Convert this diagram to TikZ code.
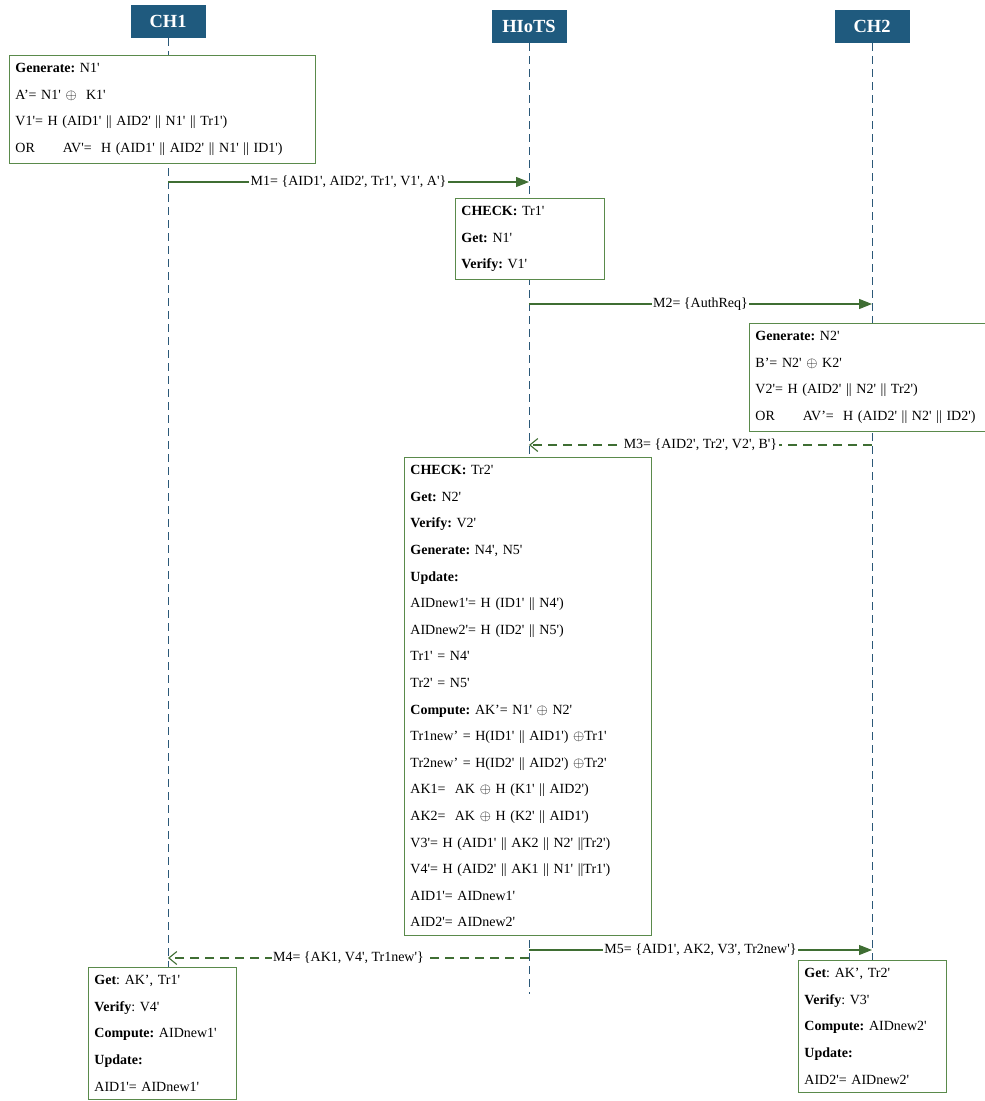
\documentclass[tikz,border=0pt]{standalone}
\usepackage{fontspec}
\setmainfont{Liberation Serif}[Ligatures=TeXOff]
\usetikzlibrary{arrows.meta}
\definecolor{headblue}{HTML}{1F5A7E}
\definecolor{lifeblue}{HTML}{2B5878}
\definecolor{boxgreen}{HTML}{5A8A4B}
\definecolor{msggreen}{HTML}{3F6E33}
\newcommand{\txtfont}{\frenchspacing\fontsize{14}{26.6}\selectfont}
\begin{document}
\begin{tikzpicture}[x=1pt,y=-1pt,
        head/.style={fill=headblue, text=white, font=\fontsize{18.5}{20}\selectfont\bfseries, minimum width=75pt, minimum height=33pt, inner sep=0pt},
        life/.style={draw=lifeblue, line width=1pt, dash pattern=on 8pt off 5pt},
        box/.style={draw=boxgreen, line width=0.9pt, fill=white, align=left, anchor=north west, inner xsep=6pt, inner ysep=8pt, font=\txtfont},
        msg/.style={draw=msggreen, line width=1.1pt, -{Triangle[length=13pt,width=10pt]}},
        reply/.style={draw=msggreen, line width=1.1pt, dash pattern=on 9pt off 6pt, -{Straight Barb[length=8pt,width=13pt]}},
        lbl/.style={fill=white, inner sep=1.5pt, font=\txtfont}]
            \useasboundingbox (0,0) rectangle (985,1101);
            \node[head] (ch1) at (168,21.5) {CH1};
            \node[head] (hiots) at (529,26.5) {HIoTS};
            \node[head] (ch2) at (872,26.5) {CH2};
            \coordinate (ch1end) at (168,967);
            \coordinate (hiotsend) at (529,994);
            \coordinate (ch2end) at (872,960);
            \draw[life] (ch1) -- (ch1end);
            \draw[life] (hiots) -- (hiotsend);
            \draw[life] (ch2) -- (ch2end);
            \node[box, text width=294pt] (gen1) at (9,55) {\textbf{Generate:} N1'\\
                A’= N1' $\oplus$\ \ K1'\\
                V1'= H (AID1' || AID2' || N1' || Tr1')\\
                OR\hspace{2em}AV'=\ \ H (AID1' || AID2' || N1' || ID1')};
            \node[box, text width=137pt] (chk1) at (455,198) {\textbf{CHECK:} Tr1'\\
                \textbf{Get:} N1'\\
                \textbf{Verify:} V1'};
            \node[box, text width=233pt] (gen2) at (749,323) {\textbf{Generate:} N2'\\
                B’= N2' $\oplus$ K2'\\
                V2'= H (AID2' || N2' || Tr2')\\
                OR\hspace{2em}AV’=\ \ H (AID2' || N2' || ID2')};
            \node[box, text width=235pt] (chk2) at (404,457) {\textbf{CHECK:} Tr2'\\
                \textbf{Get:} N2'\\
                \textbf{Verify:} V2'\\
                \textbf{Generate:} N4', N5'\\
                \textbf{Update:}\\
                AIDnew1'= H (ID1' || N4')\\
                AIDnew2'= H (ID2' || N5')\\
                Tr1' = N4'\\
                Tr2' = N5'\\
                \textbf{Compute:} AK’= N1' $\oplus$ N2'\\
                Tr1new’ = H(ID1' || AID1') $\oplus$Tr1'\\
                Tr2new’ = H(ID2' || AID2') $\oplus$Tr2'\\
                AK1=\ \ AK $\oplus$ H (K1' || AID2')\\
                AK2=\ \ AK $\oplus$ H (K2' || AID1')\\
                V3'= H (AID1' || AK2 || N2' ||Tr2')\\
                V4'= H (AID2' || AK1 || N1' ||Tr1')\\
                AID1'= AIDnew1'\\
                AID2'= AIDnew2'};
            \node[box, text width=136pt] (upd1) at (88,967) {\textbf{Get}: AK’, Tr1'\\
                \textbf{Verify}: V4'\\
                \textbf{Compute:} AIDnew1'\\
                \textbf{Update:}\\
                AID1'= AIDnew1'};
            \node[box, text width=136pt] (upd2) at (798,960) {\textbf{Get}: AK’, Tr2'\\
                \textbf{Verify}: V3'\\
                \textbf{Compute:} AIDnew2'\\
                \textbf{Update:}\\
                AID2'= AIDnew2'};
            \draw[msg] (ch1 |- 0,182) -- node[lbl] {M1= \{AID1', AID2', Tr1', V1', A'\}} (hiots |- 0,182);
            \draw[msg] (hiots |- 0,304) -- node[lbl] {M2= \{AuthReq\}} (ch2 |- 0,304);
            \draw[reply] (ch2 |- 0,445) -- node[lbl] {M3= \{AID2', Tr2', V2', B'\}} (hiots |- 0,445);
            \draw[reply] (hiots |- 0,958) -- node[lbl] {M4= \{AK1, V4', Tr1new'\}} (ch1 |- 0,958);
            \draw[msg] (hiots |- 0,950) -- node[lbl] {M5= \{AID1', AK2, V3', Tr2new'\}} (ch2 |- 0,950);
        \end{tikzpicture}
\end{document}
